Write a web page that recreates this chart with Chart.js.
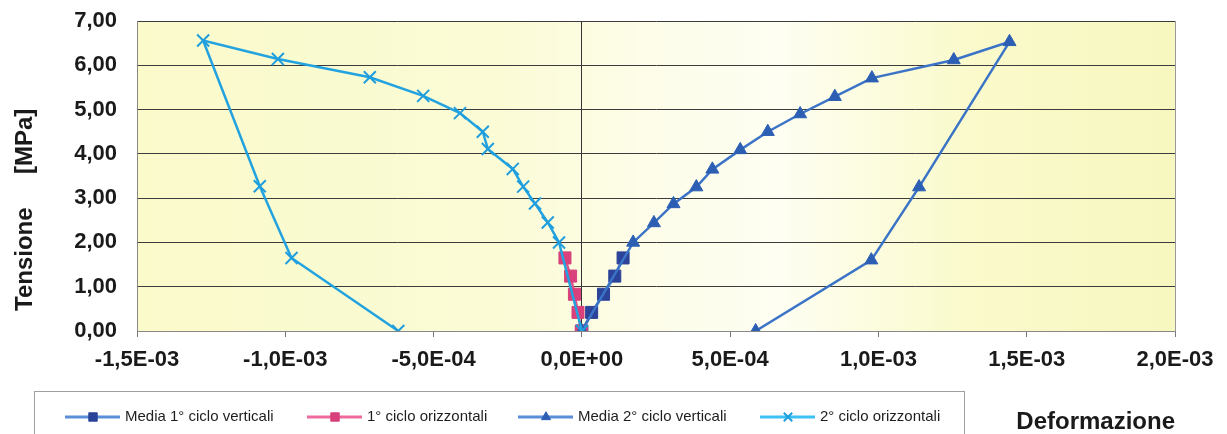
<!DOCTYPE html>
<html>
<head>
<meta charset="utf-8">
<script src="https://cdn.jsdelivr.net/npm/chart.js@4.4.1/dist/chart.umd.min.js"></script>
<style>
body { margin: 0; background: #fff; }
#wrap { width: 1227px; height: 434px; position: relative; }
</style>
</head>
<body>
<div id="wrap"><canvas id="tensChart"></canvas></div>
<script>
// Deformazione (x) and Tensione [MPa] (y)
const defMedia1 = [0.000e-3, 0.033e-3, 0.073e-3, 0.111e-3, 0.139e-3];
const tenMedia1 = [0.00, 0.42, 0.83, 1.24, 1.65];

const defOriz1 = [-0.002e-3, -0.013e-3, -0.025e-3, -0.038e-3, -0.057e-3];
const tenOriz1 = [0.00, 0.42, 0.83, 1.24, 1.65];

const defMedia2 = [0.000e-3, 0.173e-3, 0.243e-3, 0.309e-3, 0.386e-3, 0.440e-3, 0.534e-3, 0.627e-3,
                   0.736e-3, 0.853e-3, 0.978e-3, 1.254e-3, 1.442e-3, 1.137e-3, 0.976e-3, 0.586e-3];
const tenMedia2 = [0.00, 2.00, 2.44, 2.87, 3.25, 3.65, 4.09, 4.50,
                   4.90, 5.29, 5.71, 6.12, 6.53, 3.25, 1.60, 0.00];

const defOriz2 = [0.000e-3, -0.077e-3, -0.115e-3, -0.158e-3, -0.198e-3, -0.233e-3, -0.317e-3, -0.334e-3,
                  -0.411e-3, -0.535e-3, -0.715e-3, -1.025e-3, -1.277e-3, -1.086e-3, -0.979e-3, -0.619e-3];
const tenOriz2 = [0.00, 2.00, 2.45, 2.88, 3.26, 3.66, 4.11, 4.50,
                  4.92, 5.31, 5.73, 6.14, 6.56, 3.27, 1.65, 0.00];

const seriesLabels = ["Media 1° ciclo verticali", "1° ciclo orizzontali",
                      "Media 2° ciclo verticali", "2° ciclo orizzontali"];

const FONT = "'Liberation Sans', Arial, sans-serif";

function pts(xs, ys) {
    return xs.map((x, i) => ({ x: x, y: ys[i] }));
}

// -1,5E-03 style labels
function fmtExp(v) {
    if (Math.abs(v) < 1e-12) v = 0;
    let parts = v.toExponential(1).split("e");
    let sign = parts[1][0] === "-" ? "-" : "+";
    let digits = parts[1].replace(/[+-]/, "").padStart(2, "0");
    return parts[0].replace(".", ",") + "E" + sign + digits;
}

// yellow plot area
const plotBg = {
    id: "plotBg",
    beforeDraw(chart) {
        const { ctx, chartArea: a } = chart;
        const g = ctx.createLinearGradient(a.left, 0, a.right, 0);
        g.addColorStop(0, "#fafacb");
        g.addColorStop(0.35, "#fbfbd6");
        g.addColorStop(0.5, "#fdfdea");
        g.addColorStop(0.62, "#fefef2");
        g.addColorStop(0.8, "#fafacc");
        g.addColorStop(1, "#f7f7c0");
        ctx.save();
        ctx.fillStyle = g;
        ctx.fillRect(a.left, a.top, a.width, a.height);
        ctx.restore();
    }
};

// boxed legend, line + marker like the spreadsheet one
const boxLegend = {
    id: "boxLegend",
    afterDraw(chart) {
        const ctx = chart.ctx;
        const starts = [65, 307, 518, 760];
        const y = 417;
        ctx.save();
        ctx.fillStyle = "#fff";
        ctx.fillRect(34.5, 391.5, 930, 50);
        ctx.strokeStyle = "#a0a0a0";
        ctx.lineWidth = 1;
        ctx.strokeRect(34.5, 391.5, 930, 50);

        chart.data.datasets.forEach((ds, i) => {
            const x0 = starts[i];
            ctx.strokeStyle = ds.legendLine;
            ctx.lineWidth = 3;
            ctx.beginPath();
            ctx.moveTo(x0, y);
            ctx.lineTo(x0 + 55, y);
            ctx.stroke();

            ctx.fillStyle = ds.pointBackgroundColor;
            ctx.strokeStyle = ds.pointBorderColor;
            ctx.lineWidth = ds.pointBorderWidth;
            Chart.helpers.drawPoint(ctx, {
                pointStyle: ds.pointStyle,
                radius: ds.pointRadius * 0.7,
                rotation: 0,
                borderWidth: ds.pointBorderWidth
            }, x0 + 28, y);

            ctx.fillStyle = "#1e1e1e";
            ctx.font = "15px " + FONT;
            ctx.textBaseline = "middle";
            ctx.textAlign = "left";
            ctx.fillText(ds.label, x0 + 60, y);
        });
        ctx.restore();
    }
};

const ctx = document.getElementById("tensChart").getContext("2d");

new Chart(ctx, {
    type: "scatter",
    data: {
        datasets: [
            {
                label: seriesLabels[0],
                data: pts(defMedia1, tenMedia1),
                showLine: true,
                borderColor: "#4a7fd0",
                legendLine: "#5b8ed8",
                borderWidth: 2.5,
                pointStyle: "rect",
                pointRadius: 8.5,
                pointBackgroundColor: "#2b4399",
                pointBorderColor: "#2b4399",
                pointBorderWidth: 1,
                order: 4
            },
            {
                label: seriesLabels[1],
                data: pts(defOriz1, tenOriz1),
                showLine: true,
                borderColor: "#e2508a",
                legendLine: "#ee6a9e",
                borderWidth: 2.5,
                pointStyle: "rect",
                pointRadius: 8.5,
                pointBackgroundColor: "#d9407c",
                pointBorderColor: "#d9407c",
                pointBorderWidth: 1,
                order: 3
            },
            {
                label: seriesLabels[2],
                data: pts(defMedia2, tenMedia2),
                showLine: true,
                borderColor: "#3b74c6",
                legendLine: "#5b8ed8",
                borderWidth: 2.5,
                pointStyle: "triangle",
                pointRadius: 7.5,
                pointBackgroundColor: "#2c5fb4",
                pointBorderColor: "#2c5fb4",
                pointBorderWidth: 1,
                order: 2
            },
            {
                label: seriesLabels[3],
                data: pts(defOriz2, tenOriz2),
                showLine: true,
                borderColor: "#22a3e0",
                legendLine: "#3ec0f4",
                borderWidth: 2.5,
                pointStyle: "crossRot",
                pointRadius: 8.5,
                pointBackgroundColor: "#1f9ddc",
                pointBorderColor: "#1f9ddc",
                pointBorderWidth: 2,
                order: 1
            }
        ]
    },
    options: {
        responsive: true,
        maintainAspectRatio: false,
        animation: false,
        events: [],
        layout: { padding: { top: 21, right: 52, left: 0, bottom: 0 } },
        plugins: {
            legend: { display: false },
            tooltip: { enabled: false }
        },
        scales: {
            x: {
                type: "linear",
                min: -1.5e-3,
                max: 2.0e-3,
                afterFit(scale) { scale.height = 103; },
                ticks: {
                    stepSize: 5e-4,
                    padding: 10,
                    color: "#1a1a1a",
                    font: { family: FONT, size: 22, weight: "bold" },
                    callback: v => fmtExp(v)
                },
                grid: {
                    drawTicks: true,
                    tickLength: 6,
                    tickColor: "#777",
                    color: c => {
                        if (!c.tick) return "rgba(0,0,0,0)";
                        if (Math.abs(c.tick.value) < 1e-9) return "#333";
                        if (Math.abs(c.tick.value - 2e-3) < 1e-9) return "#999";
                        return "rgba(0,0,0,0)";
                    }
                },
                border: { display: true, color: "#888" },
                title: {
                    display: true,
                    text: "Deformazione",
                    align: "end",
                    color: "#1a1a1a",
                    font: { family: FONT, size: 24, weight: "bold", lineHeight: 1 },
                    padding: { top: 0, bottom: 0 }
                }
            },
            y: {
                type: "linear",
                min: 0,
                max: 7,
                afterFit(scale) {
                    scale.width = 137;
                    // let the 7,00 label hang over the top padding
                    scale.paddingTop = 0;
                    scale.paddingBottom = 0;
                },
                ticks: {
                    stepSize: 1,
                    padding: 20,
                    color: "#1a1a1a",
                    font: { family: FONT, size: 22, weight: "bold" },
                    callback: v => v.toFixed(2).replace(".", ",")
                },
                grid: {
                    drawTicks: false,
                    color: "#3c3c3c"
                },
                border: { display: true, color: "#888" },
                title: {
                    display: true,
                    text: "   Tensione     [MPa]",
                    align: "start",
                    color: "#1a1a1a",
                    font: { family: FONT, size: 24, weight: "bold", lineHeight: 1 },
                    padding: { top: 13, bottom: 0 }
                }
            }
        }
    },
    plugins: [plotBg, boxLegend]
});
</script>
</body>
</html>
